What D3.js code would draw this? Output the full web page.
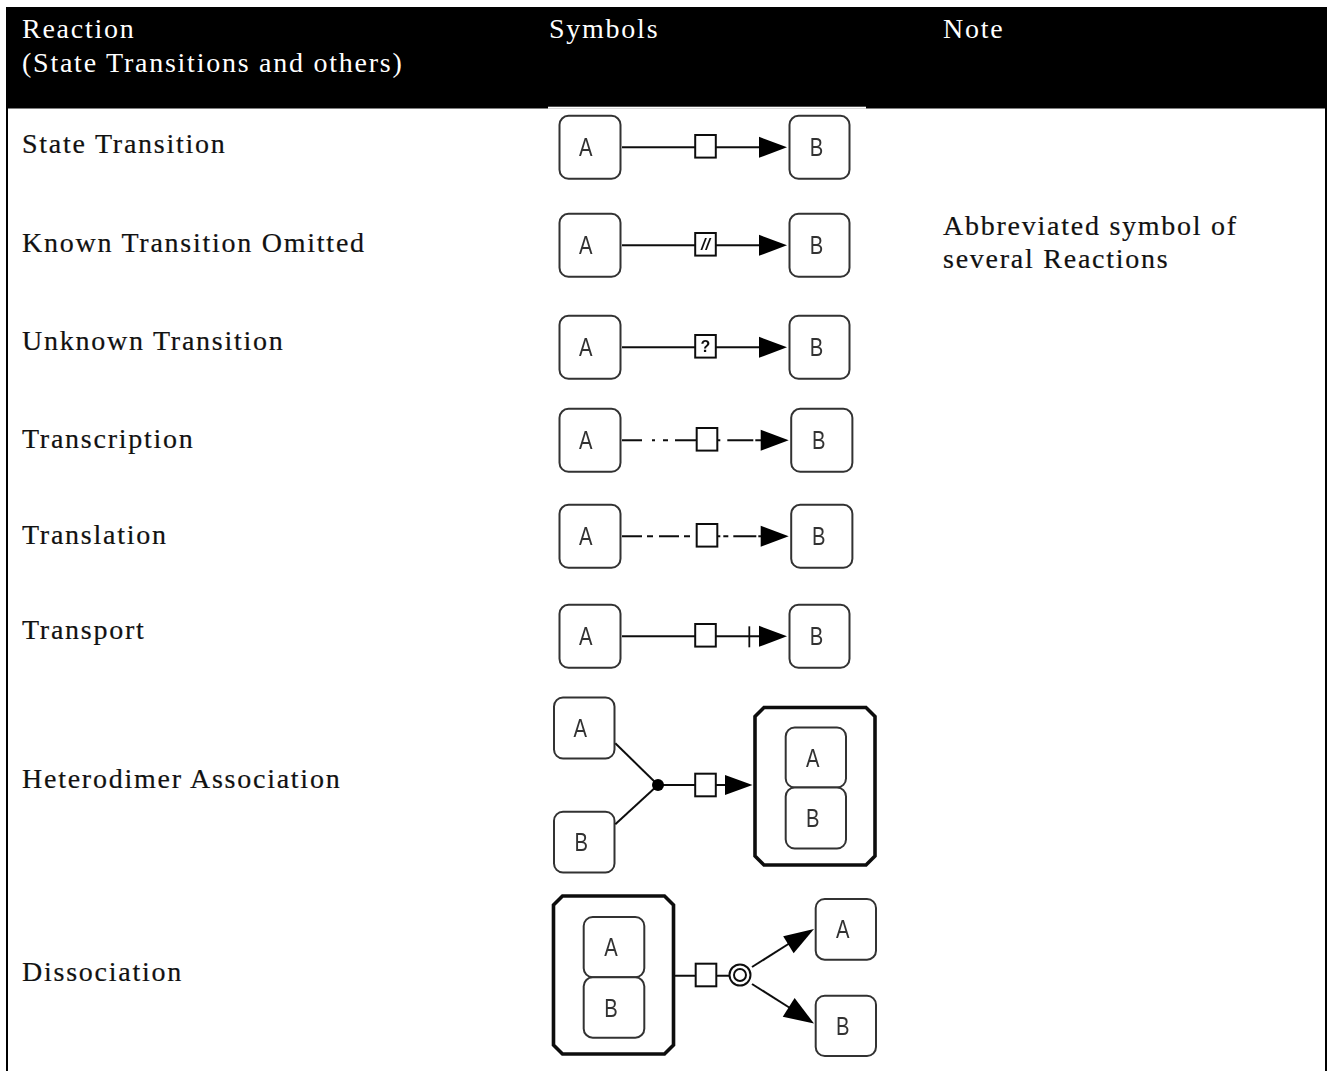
<!DOCTYPE html>
<html>
<head>
<meta charset="utf-8">
<script src="https://cdn.jsdelivr.net/npm/d3@7"></script>
<style>
html, body { margin: 0; padding: 0; background: #fff; overflow: hidden; }
svg { display: block; }
text.serif { font-family: "Liberation Serif", serif; font-size: 28px; letter-spacing: 1.75px; stroke-width: 0.2px; }
text.glyph { font-family: "Liberation Sans", sans-serif; font-size: 25px; fill: #333; text-anchor: middle; }
</style>
</head>
<body>
<script>
// table content
var headers = ["Reaction", "Symbols", "Note"];
var headerSub = "(State Transitions and others)";
var reactions = ["State Transition", "Known Transition Omitted", "Unknown Transition", "Transcription",
    "Translation", "Transport", "Heterodimer Association", "Dissociation"];
var notes = ["Abbreviated symbol of", "several Reactions"];
var simpleRows = reactions.slice(0, 6);
var squareMarks = ["", "//", "?", "", "", ""];
var lineKinds = ["solid", "solid", "solid", "transcription", "translation", "transport"];
var nodeNames = ["A", "B"];

var width = 1330, height = 1071;

var svg = d3.select("body").append("svg")
    .attr("width", width)
    .attr("height", height);

var defs = svg.append("defs");
// the source is a scaled bitmap, so the symbols are a little soft
defs.append("filter").attr("id", "soft")
    .attr("filterUnits", "userSpaceOnUse")
    .attr("x", 500).attr("y", 100).attr("width", 420).attr("height", 971)
    .append("feGaussianBlur").attr("stdDeviation", 0.6);

///////////////////////////
// TABLE FRAME
svg.append("rect").attr("x", 6).attr("y", 7).attr("width", 1321).attr("height", 101.5).attr("fill", "#000");
svg.append("rect").attr("x", 548).attr("y", 106.7).attr("width", 318).attr("height", 2).attr("fill", "#fff");
svg.append("rect").attr("x", 6).attr("y", 7).attr("width", 2).attr("height", height - 7).attr("fill", "#000");
svg.append("rect").attr("x", 1325).attr("y", 7).attr("width", 2).attr("height", height - 7).attr("fill", "#000");

var colX = d3.scaleOrdinal().domain(headers).range([22, 549, 943]);
var textY = d3.scaleOrdinal().domain(reactions).range([153, 252, 350, 448, 544, 639, 788, 981]);

svg.selectAll(".head").data(headers).enter().append("text")
    .attr("class", "serif head")
    .attr("x", function(d) { return colX(d); })
    .attr("y", 38)
    .attr("fill", "#fff")
    .text(function(d) { return d; });
svg.append("text").attr("class", "serif").attr("x", colX("Reaction")).attr("y", 72)
    .attr("fill", "#fff").text(headerSub);

svg.selectAll(".reaction").data(reactions).enter().append("text")
    .attr("class", "serif reaction")
    .attr("x", colX("Reaction"))
    .attr("y", function(d) { return textY(d); })
    .attr("fill", "#111").attr("stroke", "#111")
    .text(function(d) { return d; });

svg.selectAll(".note").data(notes).enter().append("text")
    .attr("class", "serif note")
    .attr("x", colX("Note"))
    .attr("y", function(d, i) { return 235 + i * 33; })
    .attr("fill", "#111").attr("stroke", "#111")
    .text(function(d) { return d; });

///////////////////////////
// SYMBOL HELPERS
var g = svg.append("g").attr("filter", "url(#soft)");
var ink = "#333";

function node(x0, y0, x1, y1, name, dx) {
    g.append("rect").attr("x", x0).attr("y", y0).attr("width", x1 - x0).attr("height", y1 - y0)
        .attr("rx", 9).attr("fill", "#fff").attr("stroke", ink).attr("stroke-width", 2);
    // letters in the source are narrow, squeeze them
    g.append("text").attr("class", "glyph")
        .attr("x", (x0 + x1) / 2 + dx)
        .attr("y", (y0 + y1) / 2 + 9)
        .attr("textLength", 13.5)
        .attr("lengthAdjust", "spacingAndGlyphs")
        .text(name);
}

function line(x0, y0, x1, y1, dash) {
    g.append("line").attr("x1", x0).attr("y1", y0).attr("x2", x1).attr("y2", y1)
        .attr("stroke", "#111").attr("stroke-width", 2)
        .attr("stroke-dasharray", dash || null);
}

function square(cx, cy, mark) {
    g.append("rect").attr("x", cx - 10.3).attr("y", cy - 11.3).attr("width", 20.6).attr("height", 22.6)
        .attr("fill", "#fff").attr("stroke", "#111").attr("stroke-width", 2);
    if (mark) {
        g.append("text").attr("x", cx).attr("y", cy + 6)
            .attr("text-anchor", "middle")
            .attr("font-family", "Liberation Sans, sans-serif")
            .attr("font-size", 16)
            .attr("font-weight", "bold")
            .attr("font-style", mark == "//" ? "italic" : "normal")
            .attr("fill", "#111")
            .text(mark);
    }
}

// arrow head with its tip at (tx,ty), coming from direction (fx,fy)
function arrow(tx, ty, fx, fy, len, half) {
    var a = Math.atan2(ty - fy, tx - fx);
    var bx = tx - len * Math.cos(a), by = ty - len * Math.sin(a);
    var nx = -Math.sin(a) * half, ny = Math.cos(a) * half;
    g.append("path")
        .attr("d", d3.line()([[tx, ty], [bx + nx, by + ny], [bx - nx, by - ny]]) + "Z")
        .attr("fill", "#000");
}

function complex(x0, y0, x1, y1) {
    var c = 9;
    g.append("path")
        .attr("d", d3.line()([[x0 + c, y0], [x1 - c, y0], [x1, y0 + c], [x1, y1 - c],
            [x1 - c, y1], [x0 + c, y1], [x0, y1 - c], [x0, y0 + c]]) + "Z")
        .attr("fill", "#fff").attr("stroke", "#111").attr("stroke-width", 3.6);
}

///////////////////////////
// SIMPLE A -> B ROWS
var lineY = d3.scaleOrdinal().domain(simpleRows).range([147.3, 245.3, 347.3, 440.3, 536.3, 636.3]);

simpleRows.forEach(function(name, i) {
    var y = lineY(name);
    var kind = lineKinds[i];
    var wide = kind == "transcription" || kind == "translation";
    var shift = wide ? 1.7 : 0;     // the dashed rows sit a bit further right
    var sx = 705.5 + (wide ? 1.5 : 0);
    var bx = 789.5 + shift;

    var dashL = null, dashR = null;
    if (kind == "transcription") { dashL = "20 10 3 8 5 7 22"; dashR = "3 7 26 2 6"; }
    if (kind == "translation") { dashL = "20 5 6 6 20 5 6 6 6"; dashR = "3 3 5 5 23 2 6"; }

    line(622, y, sx, y, dashL);
    line(sx + (wide ? 10.3 : 0), y, bx - 28, y, dashR);
    if (kind == "transport") {
        g.append("line").attr("x1", 749.3).attr("y1", y - 10).attr("x2", 749.3).attr("y2", y + 11)
            .attr("stroke", "#111").attr("stroke-width", 1.8);
    }
    square(sx, y - 1, squareMarks[i]);
    arrow(bx - 2.5, y, bx - 60, y, 28, 10.5);
    node(559.5, y - 31.5, 620.5, y + 31.5, "A", -4.3);
    node(bx, y - 31.5, bx + 60 + shift * 0.7, y + 31.5, "B", -3);
});

///////////////////////////
// HETERODIMER ASSOCIATION
node(554, 697.5, 614.5, 758.5, nodeNames[0], -4);
node(554, 811.7, 614.5, 872.5, nodeNames[1], -3);
line(615.3, 743.3, 658, 785);
line(615.3, 824.3, 658, 785);
line(658, 785, 725, 785);
g.append("circle").attr("cx", 658).attr("cy", 785).attr("r", 6).attr("fill", "#000");
square(705.5, 785, "");
arrow(752.5, 785, 700, 785, 27.5, 10);
complex(755, 707.5, 875, 865);
node(785.7, 727.5, 846, 787.5, nodeNames[0], -3);
node(785.7, 787.5, 846, 848.5, nodeNames[1], -3);

///////////////////////////
// DISSOCIATION
complex(553.5, 896, 673.5, 1054);
node(583.7, 917, 644.3, 977.3, nodeNames[0], -3);
node(583.7, 977.3, 644.3, 1037.7, nodeNames[1], -3);
line(674, 975.7, 730, 975.7);
square(706, 975, "");
g.append("circle").attr("cx", 740).attr("cy", 975).attr("r", 10.5).attr("fill", "#fff").attr("stroke", "#111").attr("stroke-width", 2);
g.append("circle").attr("cx", 740).attr("cy", 975).attr("r", 6).attr("fill", "#fff").attr("stroke", "#111").attr("stroke-width", 2);
line(752, 967, 790, 943);
line(752, 984, 790, 1008);
arrow(814, 929, 752, 967, 30, 10);
arrow(814, 1023.5, 752, 984, 30, 11);
node(815.7, 899, 876, 959.7, nodeNames[0], -3);
node(815.7, 995.7, 876, 1056, nodeNames[1], -3);
</script>
</body>
</html>
